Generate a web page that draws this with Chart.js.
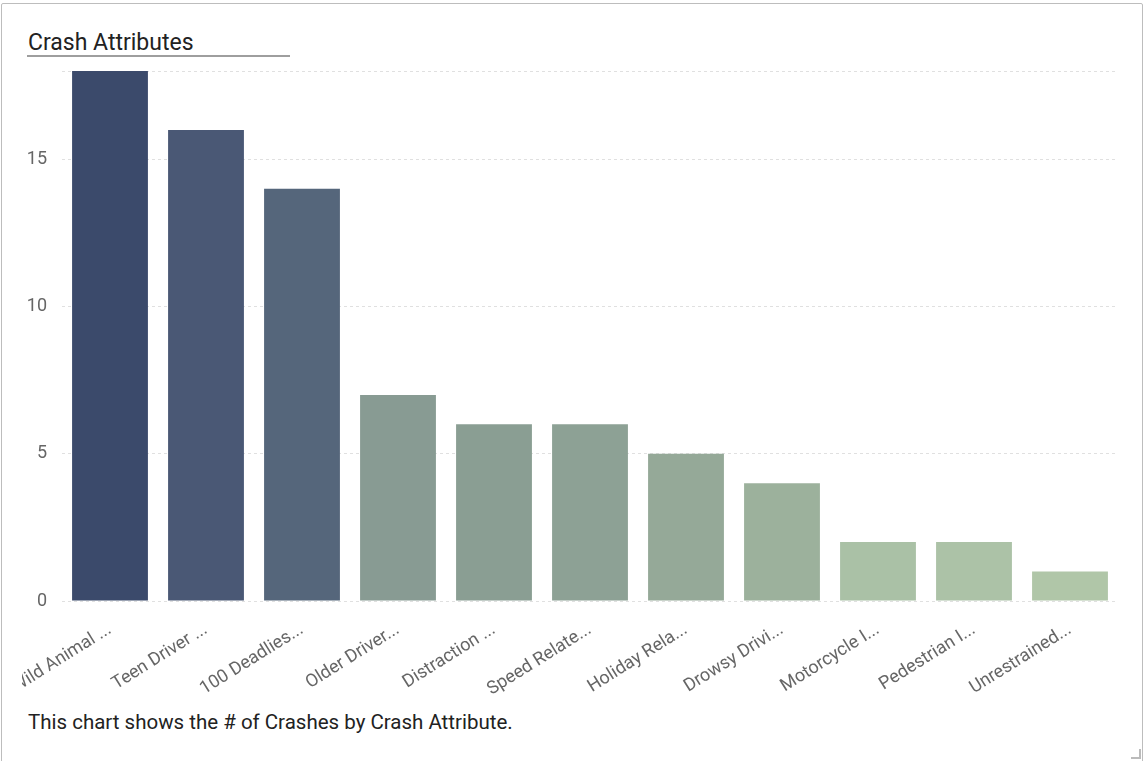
<!DOCTYPE html>
<html>
<head>
<meta charset="utf-8">
<script src="https://cdn.jsdelivr.net/npm/chart.js@4"></script>
<style>
    body { margin: 0; background: #fff; font-family: Roboto, sans-serif; }
    .card {
        position: absolute; left: 1px; top: 3px; width: 1142px; height: 770px;
        border: 1px solid #bdbdbd; box-sizing: border-box; border-radius: 2px;
    }
    .title {
        position: absolute; left: 27px; top: 31px; width: 262px;
        font-size: 23px; color: #222; padding-left: 1px;
        border-bottom: 2px solid #9e9e9e; line-height: 24px;
    }
    .note {
        position: absolute; left: 28px; top: 710px;
        font-size: 20.5px; color: #222; line-height: 24px;
    }
    .handle {
        position: absolute; left: 1131px; top: 749px; width: 8px; height: 8px;
        border-right: 2px solid #bbb; border-bottom: 2px solid #bbb;
    }
    .wrap { position: absolute; left: 0; top: 60px; width: 1146px; height: 645px; clip-path: inset(0 0 0 22px); }
</style>
</head>
<body>
<div class="card"></div>
<div class="title">Crash Attributes</div>
<div class="wrap"><canvas id="crashChart"></canvas></div>
<div class="note">This chart shows the # of Crashes by Crash Attribute.</div>
<div class="handle"></div>
<script>
const categories = ['Wild Animal ...', 'Teen Driver ...', '100 Deadlies...', 'Older Driver...', 'Distraction ...',
    'Speed Relate...', 'Holiday Rela...', 'Drowsy Drivi...', 'Motorcycle I...', 'Pedestrian I...', 'Unrestrained...'];
const crashCounts = [18, 16, 14, 7, 6, 6, 5, 4, 2, 2, 1];
const barColors = ['#3b4a6b', '#4a5875', '#55667b', '#889b93', '#8a9e93', '#8da195', '#95a998', '#9cb19c', '#aac1a6', '#acc2a7', '#b0c6a8'];
const yTicks = [0, 5, 10, 15];

const ctx = document.getElementById('crashChart').getContext('2d');
const crashChart = new Chart(ctx, {
    type: 'bar',
    data: {
        labels: categories,
        datasets: [{
            label: 'Crashes',
            data: crashCounts,
            backgroundColor: barColors,
            borderWidth: 0,
            barPercentage: 0.79,
            categoryPercentage: 1
        }]
    },
    options: {
        responsive: true,
        maintainAspectRatio: false,
        animation: false,
        layout: { padding: { top: 11, right: 28, left: 0, bottom: 0 } },
        scales: {
            x: {
                grid: { display: false },
                border: { display: false },
                ticks: {
                    color: '#666',
                    font: { family: 'Roboto', size: 18 },
                    minRotation: 32,
                    maxRotation: 32,
                    padding: 10,
                    autoSkip: false
                },
                afterFit: s => { s.height = 104; s.paddingLeft = 0; s.paddingRight = 0; }
            },
            y: {
                min: 0,
                max: 18,
                afterBuildTicks: s => { s.ticks = yTicks.concat([18]).map(v => ({ value: v })); },
                grid: { color: '#e0e0e0', drawTicks: false },
                border: { display: false, dash: [3, 3] },
                ticks: {
                    color: '#666',
                    font: { family: 'Roboto', size: 18 },
                    padding: 15,
                    callback: v => yTicks.includes(v) ? v : ''
                },
                afterFit: s => { s.width = 62; s.paddingTop = 0; s.paddingBottom = 0; }
            }
        },
        plugins: { legend: { display: false }, tooltip: { enabled: false } }
    }
});
</script>
</body>
</html>
